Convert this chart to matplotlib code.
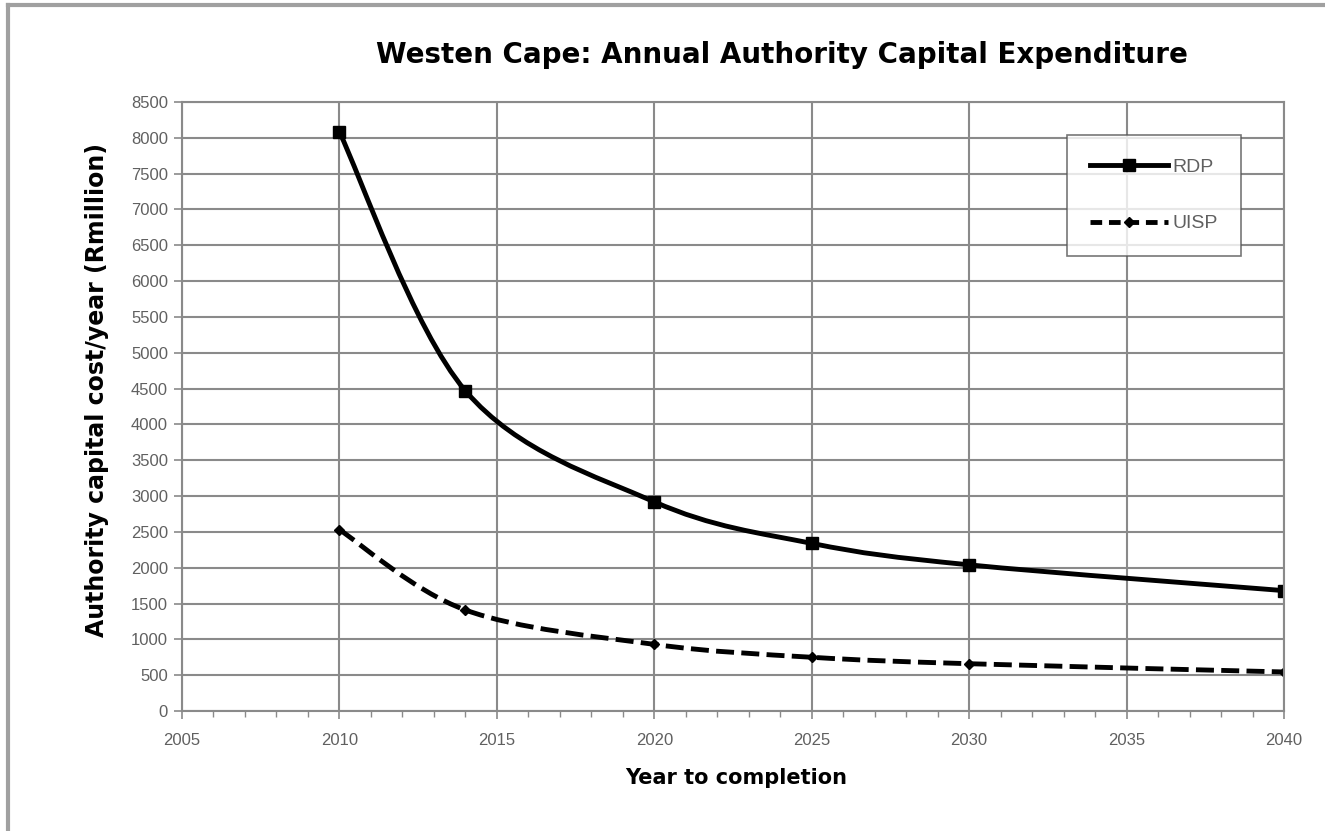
import matplotlib
matplotlib.use("Agg")
import matplotlib.pyplot as plt
from matplotlib.path import Path
from matplotlib.patches import PathPatch
from matplotlib.lines import Line2D
from matplotlib.ticker import MultipleLocator
import numpy as np

years = [2010, 2014, 2020, 2025, 2030, 2040]
rdp = [8080, 4470, 2920, 2340, 2040, 1680]
uisp = [2530, 1410, 930, 750, 660, 545]

title = "Westen Cape: Annual Authority Capital Expenditure"
xlabel = "Year to completion"
ylabel = "Authority capital cost/year (Rmillion)"


def smooth_path(xs, ys):
    pts = np.column_stack([xs, ys]).astype(float)
    n = len(pts)
    verts = [pts[0]]
    codes = [Path.MOVETO]
    for i in range(n - 1):
        p0 = pts[i - 1] if i > 0 else pts[i]
        p1 = pts[i]
        p2 = pts[i + 1]
        p3 = pts[i + 2] if i + 2 < n else pts[i + 1]
        c1 = p1 + (p2 - p0) / 6.0
        c2 = p2 - (p3 - p1) / 6.0
        verts += [c1, c2, p2]
        codes += [Path.CURVE4] * 3
    return Path(verts, codes)


fig = plt.figure(figsize=(13.25, 8.31), dpi=100)
L, R, T, B = 182, 1284, 102, 711
ax = fig.add_axes([L / 1325, 1 - B / 831, (R - L) / 1325, (B - T) / 831])

# outer frame (top and left visible)
fig.add_artist(Line2D([8 / 1325, 8 / 1325], [0, 1 - 5 / 831], transform=fig.transFigure,
                      color="#a0a0a0", lw=3))
fig.add_artist(Line2D([8 / 1325, 1], [1 - 5 / 831, 1 - 5 / 831], transform=fig.transFigure,
                      color="#a0a0a0", lw=3))

ax.set_xlim(2005, 2040)
ax.set_ylim(0, 8500)
ax.xaxis.set_major_locator(MultipleLocator(5))
ax.xaxis.set_minor_locator(MultipleLocator(1))
ax.yaxis.set_major_locator(MultipleLocator(500))
ax.grid(True, which="major", color="#8a8a8a", lw=1.5)
ax.set_axisbelow(True)
for s in ax.spines.values():
    s.set_color("#8a8a8a")
    s.set_linewidth(1.5)
ax.tick_params(axis="both", which="major", direction="out", length=6, width=1.2,
               color="#8a8a8a", labelcolor="#606060", labelsize=12)
ax.tick_params(axis="x", which="minor", direction="out", length=4, width=1.0, color="#8a8a8a")
for lab in ax.get_xticklabels() + ax.get_yticklabels():
    lab.set_family("Liberation Sans")
ax.tick_params(axis="x", pad=10)
ax.tick_params(axis="y", pad=4)

# RDP
ax.add_patch(PathPatch(smooth_path(years, rdp), fill=False, lw=3.5, color="black",
                       capstyle="round", joinstyle="round"))
ax.plot(years, rdp, linestyle="none", marker="s", markersize=8, color="black")
# UISP
ax.add_patch(PathPatch(smooth_path(years, uisp), fill=False, lw=3.5, color="black",
                       linestyle=(0, (3.7, 1.5))))
ax.plot(years, uisp, linestyle="none", marker="D", markersize=5, color="black")

handles = [
    Line2D([], [], color="black", lw=3.5, marker="s", markersize=8),
    Line2D([], [], color="black", lw=3.5, linestyle=(0, (2.4, 1.4)), marker="D", markersize=5),
]
leg = ax.legend(handles, ["RDP", "UISP"], loc="upper left",
                bbox_to_anchor=((1067 - L) / (R - L), (B - 135) / (B - T)),
                frameon=True, fancybox=False, shadow=False, handlelength=4.0,
                handletextpad=0.2, labelspacing=2.0, borderpad=1.2, borderaxespad=0,
                prop={"family": "Liberation Sans", "size": 14})
leg.get_frame().set_edgecolor("#555555")
leg.get_frame().set_linewidth(1.2)
for t in leg.get_texts():
    t.set_color("#606060")

fig.text(781.5 / 1325, 1 - 55 / 831, title, ha="center", va="center",
         fontsize=20, fontweight="bold", family="DejaVu Sans")
ax.set_xlabel(xlabel, fontsize=15, fontweight="bold", family="DejaVu Sans", va="center")
ax.set_ylabel(ylabel, fontsize=17, fontweight="bold", family="DejaVu Sans", va="center")
ax.xaxis.set_label_coords((736 - L) / (R - L), (B - 778) / (B - T))
ax.yaxis.set_label_coords((97 - L) / (R - L), (B - 390) / (B - T))

fig.savefig("out.png", dpi=100)
